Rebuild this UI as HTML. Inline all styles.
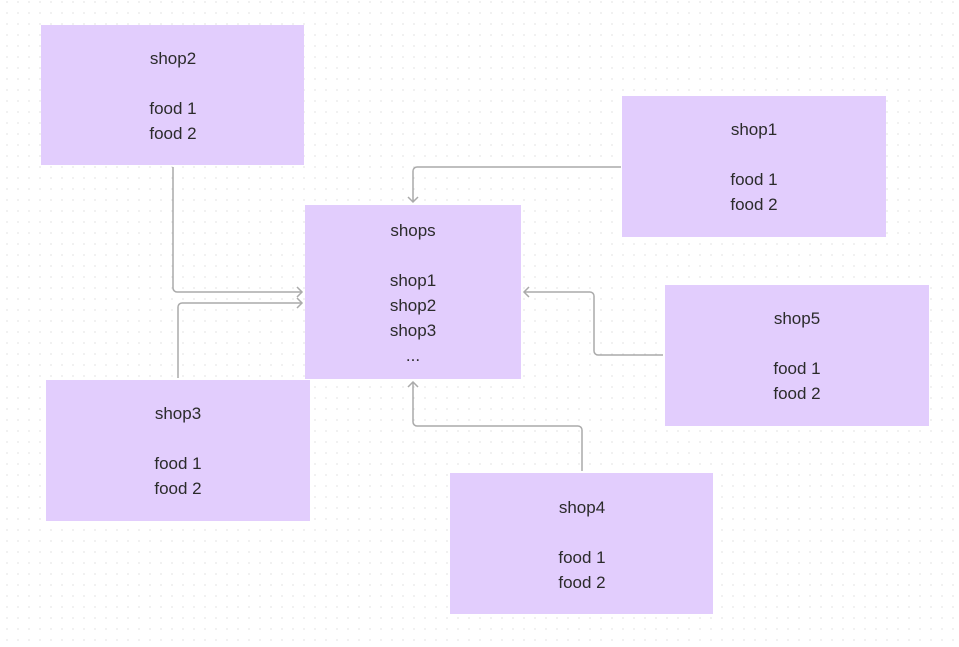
<!DOCTYPE html>
<html><head><meta charset="utf-8"><style>
html,body{margin:0;padding:0;background:#fff;}
svg{display:block}
text{font-family:"Liberation Sans",sans-serif;font-size:17px;fill:#2b2b2b;text-anchor:middle}
</style></head><body>
<svg width="959" height="647" viewBox="0 0 959 647" xmlns="http://www.w3.org/2000/svg">
<defs>
<pattern id="dots" x="6.5" y="1.5" width="11" height="11" patternUnits="userSpaceOnUse">
<rect x="0" y="0" width="1" height="1" fill="#c8c8c8"/>
</pattern>
</defs>
<rect width="959" height="647" fill="#fff"/>
<rect width="959" height="647" fill="url(#dots)"/>
<g fill="none" stroke="#aaa" stroke-width="1.5">
<path d="M173 167 V288 a4 4 0 0 0 4 4 H302"/>
<path d="M297 287 L302 292 L297 297"/>
<path d="M178 378 V307 a4 4 0 0 1 4 -4 H302"/>
<path d="M297 298 L302 303 L297 308"/>
<path d="M621 167 H417 a4 4 0 0 0 -4 4 V202"/>
<path d="M408 197 L413 202 L418 197"/>
<path d="M663 355 H598 a4 4 0 0 1 -4 -4 V296 a4 4 0 0 0 -4 -4 H524"/>
<path d="M529 287 L524 292 L529 297"/>
<path d="M582 471 V430 a4 4 0 0 0 -4 -4 H417 a4 4 0 0 1 -4 -4 V382"/>
<path d="M408 387 L413 382 L418 387"/>
</g>
<g fill="#e2cdfd">
<rect x="41" y="25" width="263" height="140"/>
<rect x="622" y="96" width="264" height="141"/>
<rect x="305" y="205" width="216" height="174"/>
<rect x="665" y="285" width="264" height="141"/>
<rect x="46" y="380" width="264" height="141"/>
<rect x="450" y="473" width="263" height="141"/>
</g>
<text x="173" y="64">shop2</text><text x="173" y="114">food 1</text><text x="173" y="139">food 2</text>
<text x="754" y="135">shop1</text><text x="754" y="185">food 1</text><text x="754" y="210">food 2</text>
<text x="413" y="236">shops</text><text x="413" y="286">shop1</text><text x="413" y="311">shop2</text><text x="413" y="336">shop3</text><text x="413" y="361">...</text>
<text x="797" y="324">shop5</text><text x="797" y="374">food 1</text><text x="797" y="399">food 2</text>
<text x="178" y="419">shop3</text><text x="178" y="469">food 1</text><text x="178" y="494">food 2</text>
<text x="582" y="513">shop4</text><text x="582" y="563">food 1</text><text x="582" y="588">food 2</text>
</svg>
</body></html>
